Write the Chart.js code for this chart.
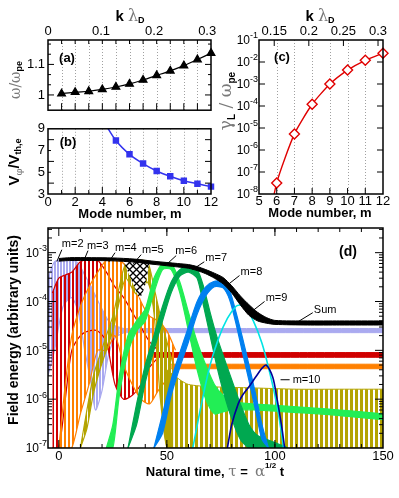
<!DOCTYPE html>
<html><head><meta charset="utf-8">
<script src="https://cdn.jsdelivr.net/npm/chart.js@4/dist/chart.umd.min.js"></script>
<style>
html,body{margin:0;padding:0;background:#fff;}
#wrap{position:relative;width:399px;height:498px;overflow:hidden;background:#fff;}
canvas{position:absolute;}
</style></head><body>
<div id="wrap">
<canvas id="cA" width="225" height="121" style="left:0;top:0"></canvas>
<canvas id="cB" width="225" height="110" style="left:0;top:118px"></canvas>
<canvas id="cC" width="184" height="228" style="left:215px;top:0"></canvas>
<canvas id="cD" width="399" height="274" style="left:0;top:224px"></canvas>
</div>
<script>
const FONT = "'Liberation Sans', Arial, sans-serif";
const GREEK = "'DejaVu Serif', 'Liberation Serif', serif";
Chart.defaults.font.family = FONT;
Chart.defaults.font.size = 13;
Chart.defaults.color = '#000';

// ---- panel (a): frequency vs mode number
const modeM = [1, 2, 3, 4, 5, 6, 7, 8, 9, 10, 11, 12];
const omegaRatio = [1.004, 1.009, 1.012, 1.018, 1.026, 1.036, 1.049, 1.064, 1.079, 1.096, 1.116, 1.137];
const kPerMode = 0.0256; // k*lambda_D per unit of m

// ---- panel (b): phase velocity
const vphM = [4, 5, 6, 7, 8, 9, 10, 11, 12];
const vPhase = [9.9, 7.92, 6.65, 5.8, 5.12, 4.63, 4.22, 3.95, 3.68];

// ---- panel (c): Landau growth rate
const gammaM = [5, 6, 7, 8, 9, 10, 11, 12];
const gammaL = [3e-12, 3.2e-8, 5.4e-6, 1.2e-4, 1e-3, 4.3e-3, 1.2e-2, 2.5e-2];

// ---- panel (d): field energy vs time (upper / lower envelopes of the noisy traces)
const sumT  = [0, 5, 15, 25, 35, 45, 55, 60, 64, 68, 72, 76, 80, 84, 88, 92, 96, 100, 115, 130, 150];
const sumHi = [7.6e-4, 7.9e-4, 7.9e-4, 7.8e-4, 7.4e-4, 6.6e-4, 6e-4, 5.7e-4, 5.2e-4, 4.5e-4, 3.8e-4, 3.1e-4, 2.1e-4, 1.3e-4, 8.6e-5, 6e-5, 4.7e-5, 4.1e-5, 4e-5, 4e-5, 4e-5];
const sumLo = [6.7e-4, 6.9e-4, 6.9e-4, 6.8e-4, 6.4e-4, 5.7e-4, 5.1e-4, 4.8e-4, 4.3e-4, 3.7e-4, 3e-4, 2.3e-4, 1.5e-4, 8.5e-5, 5.2e-5, 4e-5, 3.6e-5, 3.4e-5, 3.3e-5, 3.3e-5, 3.3e-5];

const hatchT  = [30, 32, 34.5, 37.5, 40, 42];
const hatchHi = [6.6e-4, 6.8e-4, 6.8e-4, 6.8e-4, 6.7e-4, 6.6e-4];
const hatchLo = [6.6e-4, 4e-4, 2.2e-4, 1.2e-4, 2.2e-4, 6.6e-4];

const m2T  = [-5, -2, 2, 6, 9, 12, 15, 17, 20, 23, 26, 30];
const m2Hi = [3e-4, 6.5e-4, 7.3e-4, 7.2e-4, 6e-4, 3.5e-4, 2e-4, 1.3e-4, 7e-5, 4e-5, 3.2e-5, 2.8e-5];
const m2Lo = [3e-6, 1e-5, 8e-5, 1.2e-4, 6e-5, 1e-5, 2e-6, 6e-7, 1.5e-6, 8e-6, 1.8e-5, 2.3e-5];
const m2PlatT  = [28, 60, 90, 120, 150];
const m2PlatHi = [2.8e-5, 2.8e-5, 2.8e-5, 2.8e-5, 2.8e-5];
const m2PlatLo = [2.3e-5, 2.3e-5, 2.3e-5, 2.3e-5, 2.3e-5];

const m3T  = [-3, 0, 3, 6, 10, 14, 18, 22, 26, 30, 34, 38, 42, 46];
const m3Hi = [1.5e-4, 3e-4, 3.5e-4, 4e-4, 6.5e-4, 7.3e-4, 7e-4, 4e-4, 2e-4, 1.2e-4, 6e-5, 3e-5, 1.5e-5, 1e-5];
const m3Lo = [1e-7, 1e-7, 1e-6, 1e-5, 2e-5, 2.5e-5, 2.5e-5, 1.5e-5, 2e-6, 1e-6, 1.2e-6, 2e-6, 4.5e-6, 7.2e-6];
const m3PlatT  = [44, 80, 115, 150];
const m3PlatHi = [9e-6, 9e-6, 9e-6, 9e-6];
const m3PlatLo = [7.2e-6, 7.2e-6, 7.2e-6, 7.2e-6];

const m4T  = [0, 3, 6, 10, 14, 18, 22, 26, 30, 34, 38, 42, 46, 50, 54];
const m4Hi = [1e-7, 2e-6, 2e-5, 8e-5, 2e-4, 4e-4, 7e-4, 7.3e-4, 6e-4, 3e-4, 1e-4, 5e-5, 4e-5, 2.5e-5, 1e-5];
const m4Lo = [1e-7, 1e-7, 1e-7, 5e-7, 2e-6, 1e-5, 1e-5, 2e-5, 5e-6, 2e-6, 1e-6, 8e-7, 1.5e-6, 2.5e-6, 3.5e-6];
const m4PlatT  = [52, 80, 115, 150];
const m4PlatHi = [5.2e-6, 5.2e-6, 5.2e-6, 5.2e-6];
const m4PlatLo = [4.2e-6, 4.2e-6, 4.2e-6, 4.2e-6];

const m5T  = [10, 13, 16, 19, 22, 25, 28, 31, 36, 41, 44, 47, 50, 53];
const m5Hi = [1e-7, 6e-7, 3e-6, 8e-6, 2e-5, 5e-5, 2e-4, 6e-4, 7e-4, 6.5e-4, 2e-4, 5e-5, 1.5e-5, 5e-6];
const m5Lo = [1e-7, 2.5e-7, 1.3e-6, 4e-6, 1e-5, 2.5e-5, 1e-4, 3e-4, 1.4e-4, 2.5e-4, 6e-5, 1e-6, 1e-7, 1e-7];
const m5TailT  = [50, 56, 60, 70, 90, 110, 130, 150];
const m5TailHi = [4e-6, 2.5e-6, 2e-6, 1.8e-6, 1.7e-6, 1.6e-6, 1.6e-6, 1.6e-6];
const m5TailLo = [1e-7, 1e-7, 1e-7, 1e-7, 1e-7, 1e-7, 1e-7, 1e-7];

const m6T  = [22, 25, 28, 32, 36, 40, 44, 48, 52, 56, 60, 64, 68, 72, 76, 80, 90, 100, 110, 120, 130, 140, 150];
const m6Hi = [1e-7, 3e-7, 3e-6, 2e-5, 4e-5, 7e-5, 3e-4, 6e-4, 6e-4, 2.5e-4, 6e-5, 1.5e-5, 5e-6, 2e-6, 1.2e-6, 9e-7, 8e-7, 7.5e-7, 7e-7, 6.5e-7, 6e-7, 5.5e-7, 5e-7];
const m6Lo = [1e-7, 1e-7, 1.2e-6, 9e-6, 2.5e-5, 4e-5, 1.5e-4, 4.5e-4, 4.5e-4, 1.5e-4, 2.5e-5, 4e-6, 1e-6, 5e-7, 5.5e-7, 6e-7, 6e-7, 5.7e-7, 5.3e-7, 5e-7, 4.6e-7, 4.2e-7, 3.8e-7];

const m7T  = [32, 36, 40, 44, 48, 52, 56, 60, 64, 67, 70, 73, 76, 80, 84, 88, 92, 100, 106];
const m7Hi = [1e-7, 8e-7, 5e-6, 2e-5, 8e-5, 2.5e-4, 4.5e-4, 5e-4, 4.5e-4, 2e-4, 6e-5, 2e-5, 8e-6, 2.5e-6, 8e-7, 3e-7, 1.8e-7, 1.3e-7, 1e-7];
const m7Lo = [1e-7, 3e-7, 2.2e-6, 1e-5, 4e-5, 1.5e-4, 3.3e-4, 4e-4, 3e-4, 8e-5, 2e-5, 5e-6, 1.5e-6, 4e-7, 1.5e-7, 1e-7, 1e-7, 1e-7, 1e-7];

const m8T  = [44, 48, 52, 56, 60, 64, 68, 72, 76, 79, 82, 85, 88, 91, 94, 97];
const m8Hi = [1e-7, 5e-7, 2.5e-6, 9e-6, 3e-5, 1e-4, 2e-4, 2.6e-4, 2.5e-4, 1.7e-4, 6e-5, 1.8e-5, 5e-6, 1.3e-6, 3e-7, 1e-7];
const m8Lo = [1e-7, 2e-7, 1.2e-6, 4.5e-6, 1.5e-5, 5.5e-5, 1.3e-4, 2e-4, 1.9e-4, 1.1e-4, 3.5e-5, 9e-6, 2.4e-6, 6e-7, 1.5e-7, 1e-7];

const m9T = [62, 66, 70, 74, 78, 82, 84, 86, 90, 94, 97, 100, 102, 104];
const m9E = [1e-7, 8e-7, 5e-6, 1.8e-5, 4.5e-5, 8e-5, 8.5e-5, 8e-5, 4e-5, 1.4e-5, 4.5e-6, 1.2e-6, 4e-7, 1e-7];

const m10T = [78, 80, 83, 85, 88, 91, 94, 96, 99, 101, 103, 104.5];
const m10E = [1e-7, 3e-7, 8e-7, 1.2e-6, 1.8e-6, 2.8e-6, 4.3e-6, 5e-6, 2.8e-6, 1e-6, 3e-7, 1e-7];

// curve labels in (d), in data coordinates
const labelText  = ['m=2', 'm=3', 'm=4', 'm=5', 'm=6', 'm=7', 'm=8', 'm=9', 'Sum', 'm=10'];
const labelAt    = [[1.4, 1.53e-3], [13, 1.39e-3], [26, 1.27e-3], [38.5, 1.15e-3], [53.9, 1.1e-3], [67.8, 7.9e-4], [84.1, 4.1e-4], [95.7, 1.2e-4], [118, 6.8e-5], [108.2, 2.5e-6]];
const leaderFrom = [[1.4, 1.15e-3], [13.5, 1.1e-3], [26, 1e-3], [38.1, 9.1e-4], [54.3, 8.7e-4], [67.3, 6.5e-4], [83.6, 3.4e-4], [95.2, 1e-4], [117.5, 5.9e-5], [102.6, 2.5e-6]];
const leaderTo   = [[-0.9, 6.6e-4], [11.6, 6.9e-4], [23.2, 6.5e-4], [34.4, 5.9e-4], [49.2, 5.4e-4], [61.8, 4.5e-4], [77.6, 2.1e-4], [89.2, 6.2e-5], [109.6, 3.6e-5], [106.8, 2.5e-6]];

// ---------------------------------------------------------------
const pts = (xs, ys) => xs.map((x, i) => ({ x: x, y: ys[i] }));
const fmt = v => String(+v.toFixed(3));
function range(a, b, s) { const r = []; for (let v = a; v <= b + 1e-9; v += s) r.push(+v.toFixed(6)); return r; }
function decades(lo, hi) { const r = []; for (let d = Math.round(Math.log10(lo)); d <= Math.log10(hi) + 1e-9; d++) r.push(Math.pow(10, d)); return r; }
function logMinors(lo, hi) { const r = []; decades(lo, hi).forEach(v => { for (let k = 2; k < 10; k++) if (k * v <= hi) r.push(k * v); }); return r; }

function stripes(color, on, off) {
  const c = document.createElement('canvas'); c.width = on + off; c.height = 4;
  const g = c.getContext('2d'); g.fillStyle = color; g.fillRect(0, 0, on, 4);
  return g.createPattern(c, 'repeat');
}
function crossHatch() {
  const c = document.createElement('canvas'); c.width = 7; c.height = 7;
  const g = c.getContext('2d'); g.fillStyle = '#fff'; g.fillRect(0, 0, 7, 7);
  g.strokeStyle = '#000'; g.lineWidth = 1.3;
  g.beginPath(); g.moveTo(0, 0); g.lineTo(7, 7); g.moveTo(7, 0); g.lineTo(0, 7); g.stroke();
  return g.createPattern(c, 'repeat');
}

function rich(ctx, parts, x, y, rot) {
  ctx.save();
  ctx.translate(x, y);
  if (rot) ctx.rotate(rot);
  ctx.textBaseline = 'middle'; ctx.textAlign = 'left';
  let w = 0;
  parts.forEach(p => { ctx.font = p.f; w += ctx.measureText(p.t).width; });
  let cx = -w / 2;
  parts.forEach(p => {
    ctx.font = p.f; ctx.fillStyle = p.c || '#000';
    ctx.fillText(p.t, cx, p.dy || 0);
    cx += ctx.measureText(p.t).width;
  });
  ctx.restore();
}

function tickMarks(ctx, chart, id, values, len, sides) {
  const s = chart.scales[id], a = chart.chartArea;
  ctx.beginPath();
  values.forEach(v => {
    const p = s.getPixelForValue(v);
    if (s.isHorizontal()) {
      if (p < a.left - 0.5 || p > a.right + 0.5) return;
      if (sides.includes('b')) { ctx.moveTo(p, a.bottom); ctx.lineTo(p, a.bottom - len); }
      if (sides.includes('t')) { ctx.moveTo(p, a.top); ctx.lineTo(p, a.top + len); }
    } else {
      if (p < a.top - 0.5 || p > a.bottom + 0.5) return;
      if (sides.includes('l')) { ctx.moveTo(a.left, p); ctx.lineTo(a.left + len, p); }
      if (sides.includes('r')) { ctx.moveTo(a.right, p); ctx.lineTo(a.right - len, p); }
    }
  });
  ctx.stroke();
}

function pow10Labels(ctx, chart, values) {
  const sy = chart.scales.y, xr = chart.chartArea.left - 1;
  ctx.fillStyle = '#000'; ctx.textBaseline = 'middle'; ctx.textAlign = 'left';
  values.forEach(v => {
    const y = sy.getPixelForValue(v), e = String(Math.round(Math.log10(v)));
    ctx.font = '9px ' + FONT; const ew = ctx.measureText(e).width;
    ctx.font = '12px ' + FONT; const bw = ctx.measureText('10').width;
    ctx.fillText('10', xr - ew - bw, y + 1);
    ctx.font = '9px ' + FONT; ctx.fillText(e, xr - ew, y - 4);
  });
}

function panel(cfg) {
  return {
    id: 'panel' + cfg.name,
    beforeDatasetsDraw(chart) {
      if (!cfg.grid) return;
      const ctx = chart.ctx, a = chart.chartArea, sx = chart.scales.x;
      ctx.save(); ctx.strokeStyle = '#a0a0a0'; ctx.lineWidth = 1; ctx.setLineDash([1, 2]);
      ctx.beginPath();
      cfg.grid.forEach(v => { const x = Math.round(sx.getPixelForValue(v)) + 0.5; ctx.moveTo(x, a.top); ctx.lineTo(x, a.bottom); });
      ctx.stroke(); ctx.restore();
    },
    afterDraw(chart) {
      const ctx = chart.ctx, a = chart.chartArea;
      ctx.save();
      ctx.strokeStyle = '#000'; ctx.lineWidth = 1;
      cfg.ticks.forEach(t => tickMarks(ctx, chart, t[0], t[1], t[2], t[3]));
      ctx.lineWidth = 1.5;
      ctx.strokeRect(a.left, a.top, a.right - a.left, a.bottom - a.top);
      if (cfg.pow) pow10Labels(ctx, chart, cfg.pow);
      cfg.texts.forEach(t => rich(ctx, t.parts, t.x, t.y, t.rot));
      if (cfg.extra) cfg.extra(chart, ctx);
      ctx.restore();
    }
  };
}

const noGrid = { display: false, drawTicks: false };
const noBorder = { display: false };
const kTitle = [{ t: 'k ', f: 'bold 15px ' + FONT }, { t: 'λ', f: '16px ' + GREEK, c: '#7a7a7a' }, { t: 'D', f: 'bold 9px ' + FONT, dy: 4 }];
const modeTitle = [{ t: 'Mode number, m', f: 'bold 13px ' + FONT }];
const base = { responsive: false, animation: false, events: [], plugins: { legend: { display: false }, tooltip: { enabled: false } } };

// ---------------- (a)
new Chart(document.getElementById('cA'), {
  type: 'line',
  data: { datasets: [{
    data: pts(modeM, omegaRatio), borderColor: '#000', borderWidth: 1.2, tension: 0.3,
    pointStyle: 'triangle', pointRadius: 4.5, pointBackgroundColor: '#000', pointBorderColor: '#000',
    clip: { left: 0, top: 0, right: 8, bottom: 0 }
  }] },
  options: Object.assign({}, base, {
    layout: { padding: { left: 0, right: 14, top: 0, bottom: 1 } },
    scales: {
      x: { type: 'linear', min: 0, max: 12, display: false },
      k: { type: 'linear', axis: 'x', position: 'top', min: 0, max: 12 * kPerMode, grid: noGrid, border: noBorder,
           ticks: { stepSize: 0.1, includeBounds: false, padding: 1, maxRotation: 0, autoSkip: false, callback: fmt },
           afterFit: s => { s.height = 40; } },
      y: { type: 'linear', min: 0.95, max: 1.18, grid: noGrid, border: noBorder,
           ticks: { stepSize: 0.1, includeBounds: false, padding: 3, callback: fmt },
           afterFit: s => { s.width = 48; } }
    }
  }),
  plugins: [panel({
    name: 'A', grid: range(1, 11, 1),
    ticks: [['y', [1, 1.1], 6, 'lr'], ['y', [1 - 1 / 30, 1 + 1 / 30, 1 + 2 / 30, 1.1 + 1 / 30, 1.1 + 2 / 30], 3, 'lr'],
            ['x', range(1, 11, 1), 7, 'b'], ['x', range(1, 11, 1), 4, 't']],
    texts: [
      { parts: kTitle, x: 130, y: 17 },
      { parts: [{ t: 'ω/ω', f: '14px ' + GREEK, c: '#7a7a7a' }, { t: 'pe', f: 'bold 9px ' + FONT, dy: 4 }], x: 16, y: 80, rot: -Math.PI / 2 },
      { parts: [{ t: '(a)', f: 'bold 13px ' + FONT }], x: 67, y: 58 }
    ]
  })]
});

// ---------------- (b)
new Chart(document.getElementById('cB'), {
  type: 'line',
  data: { datasets: [{
    data: pts(vphM, vPhase), borderColor: '#3333ee', borderWidth: 1.5, tension: 0.35,
    pointStyle: 'rect', pointRadius: vphM.map((m, i) => i === 0 ? 0 : 3.5),
    pointBackgroundColor: '#3333ee', pointBorderColor: '#3333ee',
    clip: { left: 0, top: 0, right: 6, bottom: 6 }
  }] },
  options: Object.assign({}, base, {
    layout: { padding: { left: 0, right: 14, top: 2, bottom: 0 } },
    scales: {
      x: { type: 'linear', min: 0, max: 12, grid: noGrid, border: noBorder,
           ticks: { stepSize: 2, padding: 1, maxRotation: 0, autoSkip: false },
           afterFit: s => { s.height = 34; } },
      y: { type: 'linear', min: 3, max: 9, grid: noGrid, border: noBorder,
           ticks: { stepSize: 2, includeBounds: false, padding: 3 },
           afterFit: s => { s.width = 48; } }
    }
  }),
  plugins: [panel({
    name: 'B', grid: range(1, 11, 1),
    ticks: [['y', [4, 6, 8], 6, 'lr'], ['y', [5, 7], 3, 'lr'], ['x', [2, 4, 6, 8, 10], 7, 'b'], ['x', [1, 3, 5, 7, 9, 11], 4, 'b']],
    texts: [
      { parts: modeTitle, x: 130, y: 96 },
      { parts: [{ t: 'V', f: 'bold 15px ' + FONT }, { t: 'φ', f: '10px ' + GREEK, c: '#7a7a7a', dy: 4 },
                { t: '/V', f: 'bold 15px ' + FONT }, { t: 'th,e', f: 'bold 9px ' + FONT, dy: 4 }], x: 15, y: 44, rot: -Math.PI / 2 },
      { parts: [{ t: '(b)', f: 'bold 13px ' + FONT }], x: 68, y: 24 }
    ]
  })]
});

// ---------------- (c)
new Chart(document.getElementById('cC'), {
  type: 'line',
  data: { datasets: [{
    data: pts(gammaM, gammaL), borderColor: '#e00000', borderWidth: 1.4, tension: 0.2,
    pointStyle: 'rectRot', pointRadius: gammaM.map((m, i) => i === 0 ? 0 : 5),
    pointBackgroundColor: '#fff', pointBorderColor: '#e00000', pointBorderWidth: 1.4,
    clip: { left: 0, top: 6, right: 6, bottom: 0 }
  }] },
  options: Object.assign({}, base, {
    layout: { padding: { left: 0, right: 16, top: 0, bottom: 0 } },
    scales: {
      x: { type: 'linear', min: 5, max: 12, grid: noGrid, border: noBorder,
           ticks: { stepSize: 1, padding: 0, maxRotation: 0, autoSkip: false },
           afterFit: s => { s.height = 34; } },
      k: { type: 'linear', axis: 'x', position: 'top', min: 5 * kPerMode, max: 12 * kPerMode, grid: noGrid, border: noBorder,
           ticks: { stepSize: 0.05, includeBounds: false, padding: 1, maxRotation: 0, autoSkip: false, callback: fmt },
           afterFit: s => { s.height = 40; } },
      y: { type: 'logarithmic', min: 1e-8, max: 1e-1, grid: noGrid, border: noBorder,
           ticks: { display: false }, afterFit: s => { s.width = 44; } }
    }
  }),
  plugins: [panel({
    name: 'C', grid: range(6, 11, 1),
    ticks: [['y', decades(1e-7, 1e-2), 6, 'lr'], ['x', range(6, 11, 1), 6, 'b'], ['k', [0.15, 0.2, 0.25, 0.3], 6, 't']],
    pow: decades(1e-8, 1e-1),
    texts: [
      { parts: kTitle, x: 105, y: 17 },
      { parts: modeTitle, x: 105, y: 213 },
      { parts: [{ t: 'γ', f: '17px ' + GREEK, c: '#7a7a7a' }, { t: 'L', f: 'bold 10px ' + FONT, dy: 5 },
                { t: ' / ', f: '17px ' + GREEK, c: '#7a7a7a' }, { t: 'ω', f: '17px ' + GREEK, c: '#7a7a7a' },
                { t: 'pe', f: 'bold 10px ' + FONT, dy: 5 }], x: 12, y: 101, rot: -Math.PI / 2 },
      { parts: [{ t: '(c)', f: 'bold 13px ' + FONT }], x: 67, y: 57 }
    ]
  })]
});

// ---------------- (d)
function band(t, hi, lo, color, fillStyle, order, bw) {
  return [
    { data: pts(t, hi), borderColor: color, borderWidth: bw, pointRadius: 0, tension: 0.25, fill: false, order: order },
    { data: pts(t, lo), borderColor: color, borderWidth: bw, pointRadius: 0, tension: 0.25, fill: '-1', backgroundColor: fillStyle, order: order }
  ];
}
function thin(t, e, color, order) {
  return [{ data: pts(t, e), borderColor: color, borderWidth: 1.6, pointRadius: 0, tension: 0.3, fill: false, order: order }];
}
const dsD = [].concat(
  band(sumT, sumHi, sumLo, '#000', '#000', 0, 1),
  band(hatchT, hatchHi, hatchLo, 'transparent', crossHatch(), 1, 1),
  thin(m10T, m10E, '#000099', 2),
  thin(m9T, m9E, '#00e4e4', 3),
  band(m8T, m8Hi, m8Lo, '#0080f0', '#0080f0', 4, 1.2),
  band(m7T, m7Hi, m7Lo, '#00a850', '#00a850', 5, 1.2),
  band(m6T, m6Hi, m6Lo, '#22ee55', '#22ee55', 6, 1.2),
  band(m5T, m5Hi, m5Lo, '#b4a400', stripes('#b4a400', 3, 1), 7, 1.2),
  band(m5TailT, m5TailHi, m5TailLo, '#b4a400', stripes('#b4a400', 3, 2), 8, 1),
  band(m4PlatT, m4PlatHi, m4PlatLo, '#ff8000', '#ff8000', 9, 1),
  band(m4T, m4Hi, m4Lo, '#ff8000', stripes('#ff8000', 2, 2), 9, 1.2),
  band(m3PlatT, m3PlatHi, m3PlatLo, '#d00000', '#d00000', 10, 1),
  band(m3T, m3Hi, m3Lo, '#d00000', stripes('#d00000', 2, 2), 10, 1.2),
  band(m2PlatT, m2PlatHi, m2PlatLo, '#aaaaf0', '#aaaaf0', 11, 1),
  band(m2T, m2Hi, m2Lo, '#aaaaf0', stripes('#aaaaf0', 2, 1), 11, 1.2)
);

new Chart(document.getElementById('cD'), {
  type: 'line',
  data: { datasets: dsD },
  options: Object.assign({}, base, {
    layout: { padding: { left: 0, right: 16, top: 4, bottom: 0 } },
    scales: {
      x: { type: 'linear', min: -5, max: 150, grid: noGrid, border: noBorder,
           ticks: { stepSize: 50, includeBounds: false, padding: 1, maxRotation: 0, autoSkip: false },
           afterFit: s => { s.height = 50; } },
      y: { type: 'logarithmic', min: 1e-7, max: 3.2e-3, grid: noGrid, border: noBorder,
           ticks: { display: false }, afterFit: s => { s.width = 48; } }
    }
  }),
  plugins: [panel({
    name: 'D',
    ticks: [['y', decades(1e-6, 1e-3), 8, 'lr'], ['y', logMinors(1e-7, 3.2e-3), 4, 'lr'],
            ['x', [0, 50, 100], 8, 'bt'], ['x', range(10, 140, 10), 4, 'bt']],
    pow: decades(1e-7, 1e-3),
    texts: [
      { parts: [{ t: 'Field energy (arbitrary units)', f: 'bold 14px ' + FONT }], x: 14, y: 106, rot: -Math.PI / 2 },
      { parts: [{ t: 'Natural time, ', f: 'bold 13px ' + FONT }, { t: 'τ', f: '15px ' + GREEK, c: '#7a7a7a' },
                { t: ' =  ', f: 'bold 13px ' + FONT }, { t: 'α', f: '15px ' + GREEK, c: '#7a7a7a' },
                { t: '1/2', f: 'bold 8px ' + FONT, dy: -6 }, { t: ' t', f: 'bold 13px ' + FONT }], x: 215, y: 248 },
      { parts: [{ t: '(d)', f: 'bold 14px ' + FONT }], x: 348, y: 28 }
    ],
    extra(chart, ctx) {
      const sx = chart.scales.x, sy = chart.scales.y;
      ctx.strokeStyle = '#000'; ctx.lineWidth = 1;
      ctx.beginPath();
      leaderFrom.forEach((p, i) => {
        ctx.moveTo(sx.getPixelForValue(p[0]), sy.getPixelForValue(p[1]));
        ctx.lineTo(sx.getPixelForValue(leaderTo[i][0]), sy.getPixelForValue(leaderTo[i][1]));
      });
      ctx.stroke();
      ctx.font = '11px ' + FONT; ctx.fillStyle = '#000'; ctx.textBaseline = 'middle'; ctx.textAlign = 'left';
      labelText.forEach((s, i) => ctx.fillText(s, sx.getPixelForValue(labelAt[i][0]), sy.getPixelForValue(labelAt[i][1])));
    }
  })]
});
</script>
</body></html>
